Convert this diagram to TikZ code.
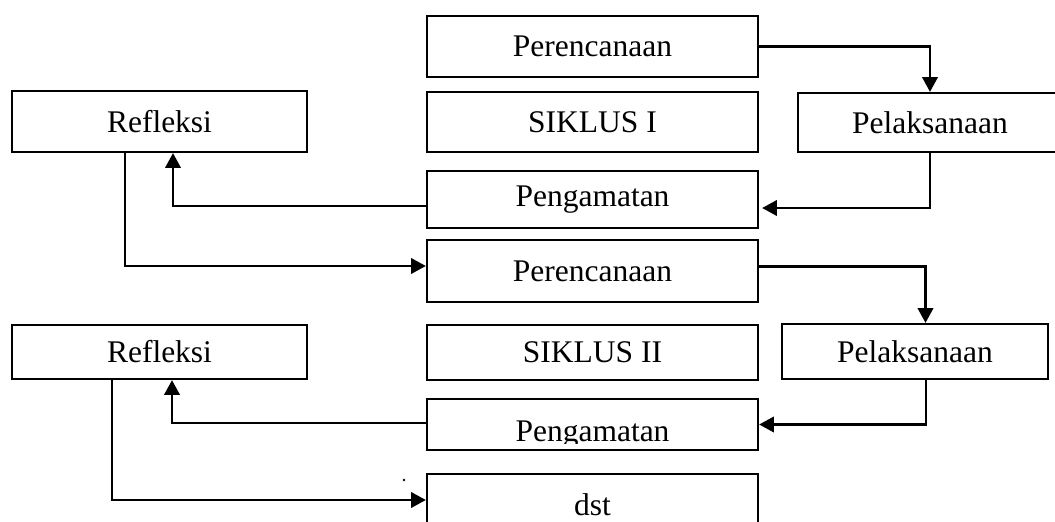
\documentclass[tikz,border=0pt]{standalone}
\usepackage{fontspec}
\setmainfont{Liberation Serif}
\usetikzlibrary{calc,arrows.meta}

\begin{document}
\begin{tikzpicture}[x=0.025cm,y=-0.025cm,
  kotak/.style={draw, line width=1.6pt, inner sep=0pt, font=\fontsize{22.4}{27}\selectfont},
  tulisan/.style={inner sep=0pt, font=\fontsize{22.4}{27}\selectfont},
  panah/.style={line width=1.6pt, -{Triangle[length=10.5pt,width=11pt]}}]
\useasboundingbox (0,0) rectangle (1055,521);
\clip (0,0) rectangle (1055,521);

% siklus I
\node[kotak, minimum width=8.275cm, minimum height=1.525cm] (per1) at (592.5,46.5) {Perencanaan};
\node[kotak, minimum width=8.275cm, minimum height=1.5cm] (sik1) at (592.5,122) {SIKLUS I};
\node[kotak, minimum width=6.6cm, minimum height=1.475cm] (pel1) at (930,122.5) {Pelaksanaan};
\node[kotak, minimum width=7.375cm, minimum height=1.525cm] (ref1) at (159.5,121.5) {Refleksi};
\node[kotak, minimum width=8.275cm, minimum height=1.425cm] (pen1) at (592.5,199.5) {Pengamatan};

% siklus II
\node[kotak, minimum width=8.275cm, minimum height=1.55cm] (per2) at (592.5,271) {Perencanaan};
\node[kotak, minimum width=8.275cm, minimum height=1.375cm] (sik2) at (592.5,352.5) {SIKLUS II};
\node[kotak, minimum width=6.65cm, minimum height=1.375cm] (pel2) at (915,351.5) {Pelaksanaan};
\node[kotak, minimum width=7.375cm, minimum height=1.35cm] (ref2) at (159.5,352) {Refleksi};
\node[kotak, minimum width=8.275cm, minimum height=1.275cm] (pen2) at (592.5,424.5) {};
\begin{scope}
\clip (427,399) rectangle (758,443.5);
\node[tulisan, anchor=base] (pen2teks) at (592.5,441) {Pengamatan};
\end{scope}
\node[kotak, minimum width=8.275cm, minimum height=1.525cm] (dst) at (592.5,504.5) {dst};
\node[circle, fill, inner sep=0pt, minimum size=1.8pt] (titik) at (404,480) {};

% panah siklus I
\draw[panah] (per1.east) -| (pel1.north);
\draw[panah] (pel1.south) |- ($(pen1.east)+(3,8.5)$);
\draw[panah] ($(pen1.west)+(0,6.5)$) -| ($(ref1.south)+(13.5,0)$);
\draw[panah] ($(ref1.south)+(-34.5,0)$) |- ($(per2.west)+(0,-5)$);

% panah siklus II
\draw[panah] ($(per2.east)+(0,-4.5)$) -| ($(pel2.north)+(10.5,0)$);
\draw[panah] ($(pel2.south)+(11,0)$) |- (pen2.east);
\draw[panah] ($(pen2.west)+(0,-1.5)$) -| ($(ref2.south)+(12.5,0)$);
\draw[panah] ($(ref2.south)+(-47.5,0)$) |- ($(dst.west)+(0,-4.5)$);

\end{tikzpicture}
\end{document}
